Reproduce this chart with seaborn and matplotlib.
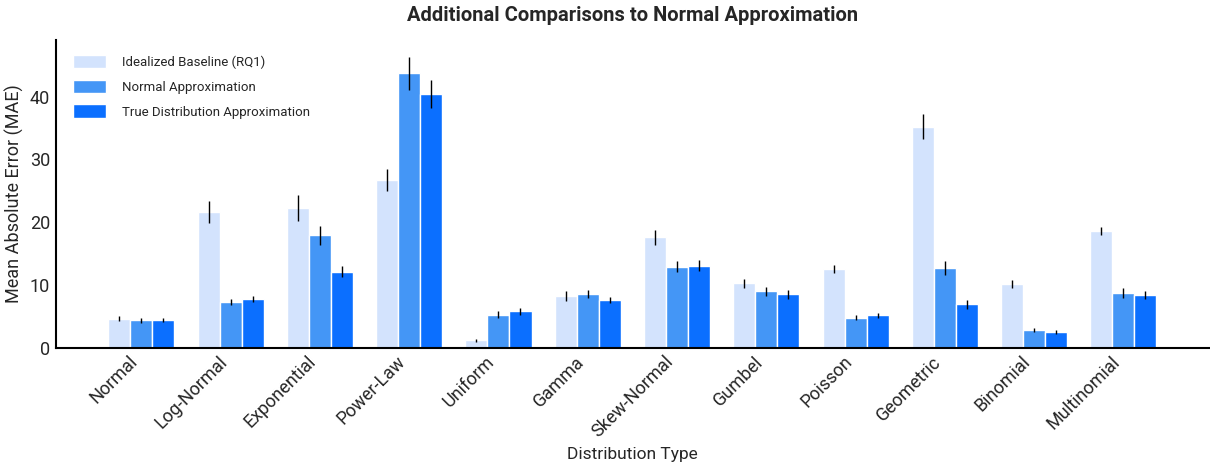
import matplotlib
matplotlib.use("Agg")
import matplotlib.pyplot as plt
import pandas as pd
import seaborn as sns

# distribution types on the x axis
distributions = ["Normal", "Log-Normal", "Exponential", "Power-Law", "Uniform", "Gamma",
                 "Skew-Normal", "Gumbel", "Poisson", "Geometric", "Binomial", "Multinomial"]

methods = ["Idealized Baseline (RQ1)", "Normal Approximation", "True Distribution Approximation"]

# mean MAE per method
baseline_mae = [4.6, 21.6, 22.3, 26.7, 1.2, 8.3, 17.6, 10.3, 12.5, 35.2, 10.1, 18.6]
normal_mae = [4.35, 7.3, 17.9, 43.7, 5.3, 8.6, 12.9, 9.0, 4.8, 12.7, 2.8, 8.7]
true_mae = [4.4, 7.8, 12.1, 40.4, 5.8, 7.6, 13.1, 8.5, 5.2, 6.9, 2.5, 8.4]

# half-length of the error bars
baseline_err = [0.4, 1.8, 2.1, 1.7, 0.2, 0.8, 1.2, 0.7, 0.65, 2.0, 0.65, 0.7]
normal_err = [0.35, 0.5, 1.5, 2.65, 0.5, 0.65, 0.9, 0.75, 0.4, 1.15, 0.3, 0.8]
true_err = [0.35, 0.5, 0.9, 2.3, 0.5, 0.5, 0.8, 0.75, 0.4, 0.7, 0.3, 0.65]

colors = ["#D3E3FD", "#4496F6", "#0B6FFF"]

df = pd.DataFrame({
    "Distribution Type": distributions * 3,
    "Method": [m for m in methods for _ in distributions],
    "MAE": baseline_mae + normal_mae + true_mae,
})

sns.set_style("white")
plt.rcParams["font.family"] = ["Roboto", "DejaVu Sans"]

fig, ax = plt.subplots(figsize=(12.1, 4.65), dpi=100)
sns.barplot(data=df, x="Distribution Type", y="MAE", hue="Method",
            palette=colors, saturation=1, width=0.74, errorbar=None, ax=ax,
            edgecolor="white", linewidth=1)

# error bars placed on the bars seaborn drew
for container, errs in zip(ax.containers, [baseline_err, normal_err, true_err]):
    xs = [p.get_x() + p.get_width() / 2 for p in container.patches]
    ys = [p.get_height() for p in container.patches]
    ax.errorbar(xs, ys, yerr=errs, fmt="none", ecolor="black", elinewidth=1, capsize=0)

ax.set_xlim(-0.96, 11.97)
ax.set_ylim(0, 49)
ax.set_yticks([0, 10, 20, 30, 40])
ax.tick_params(axis="y", labelsize=13, length=0, pad=4)
ax.tick_params(axis="x", labelsize=13, length=0)
plt.xticks(rotation=45, ha="right")
ax.set_xlabel("Distribution Type", fontsize=12.5, labelpad=4)
ax.set_ylabel("Mean Absolute Error (MAE)", fontsize=13)
ax.set_title("Additional Comparisons to Normal Approximation", fontsize=14.5,
             fontweight="bold", pad=14)

sns.despine(ax=ax)
for s in ["left", "bottom"]:
    ax.spines[s].set_color("black")
    ax.spines[s].set_linewidth(1.5)

ax.legend(loc="upper left", frameon=False, fontsize=9.5, handlelength=2.5,
          handleheight=1.2, labelspacing=0.8, handletextpad=1.2,
          bbox_to_anchor=(0.005, 0.99))

fig.subplots_adjust(left=0.046, right=1.0, bottom=0.252, top=0.914)
fig.savefig("out.png", dpi=100)
